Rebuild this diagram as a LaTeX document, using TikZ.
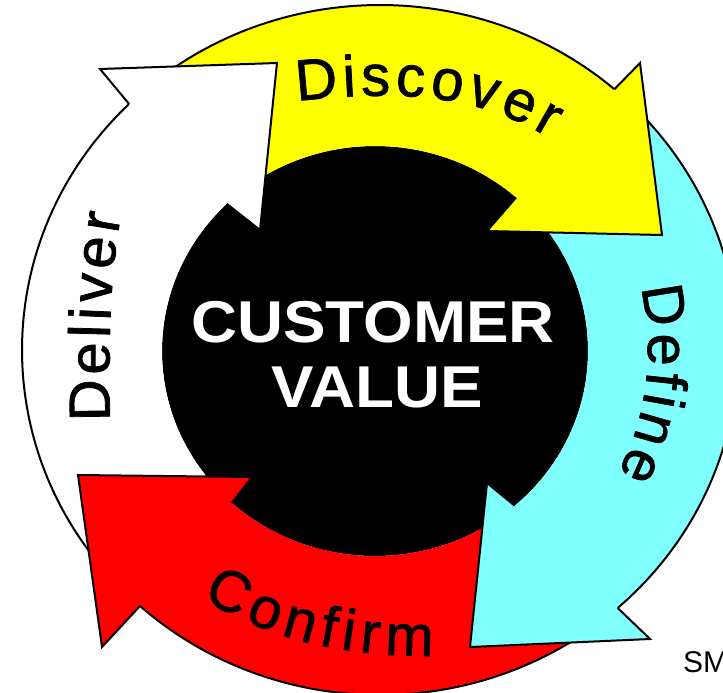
\documentclass[tikz,border=0pt]{standalone}
\usepackage{fontspec}
\usepackage{graphicx}
\setmainfont{Liberation Sans}
\newfontfamily\lblfam[FakeBold=1.3]{Liberation Sans}
\usetikzlibrary{calc,decorations.text}
\definecolor{ylw}{RGB}{255,255,0}
\definecolor{cyn}{RGB}{128,255,255}
\definecolor{rd}{RGB}{255,0,0}
\newcommand\lblfont{\lblfam\fontsize{58}{58}\selectfont}
\newcommand\ctrfont{\fontsize{59}{59}\selectfont\bfseries}
\tikzset{
  outline/.style={draw=black, line width=2pt, line join=miter},
  curvelabel/.style={decorate, decoration={text along path, text align={fit to path}, text color=black}},
}
\begin{document}
\begin{tikzpicture}[x=1pt,y=-1pt]
\useasboundingbox (0,0) rectangle (723,693);
\coordinate (O) at (380,350);
\coordinate (I) at (375,351);
% centre disc
\fill[black] (I) ellipse[x radius=213, y radius=205];
% yellow
\coordinate (yTo) at ($(O)+(-130:358 and 345)$);
\coordinate (yTi) at ($(I)+(-129.3:213 and 205)$);
\coordinate (yNo) at ($(O)+(-49.1:358 and 345)$);
\coordinate (yNi) at ($(I)+(-48.5:213 and 205)$);
\coordinate (yBo) at (640,63);
\coordinate (yT)  at (662,235);
\coordinate (yBi) at (487,231);
% cyan
\coordinate (cTo) at ($(O)+(-46.4:358 and 345)$);
\coordinate (cTi) at ($(I)+(-39.7:213 and 205)$);
\coordinate (cNo) at ($(O)+(48.4:358 and 345)$);
\coordinate (cNi) at ($(I)+(49.0:213 and 205)$);
\coordinate (cBo) at (650,639);
\coordinate (cT)  at (470,647);
\coordinate (cBi) at (487,483);
% red
\coordinate (rTo) at ($(O)+(50.0:358 and 345)$);
\coordinate (rTi) at ($(I)+(57.3:213 and 205)$);
\coordinate (rNo) at ($(O)+(132.1:358 and 345)$);
\coordinate (rNi) at ($(I)+(132.2:213 and 205)$);
\coordinate (rBo) at (102,647);
\coordinate (rT)  at (78,475);
\coordinate (rBi) at (252,477);
% white
\coordinate (wTo) at ($(O)+(135.9:358 and 345)$);
\coordinate (wTi) at ($(I)+(137.3:213 and 205)$);
\coordinate (wNo) at ($(O)+(225.5:358 and 345)$);
\coordinate (wNi) at ($(I)+(225.9:213 and 205)$);
\coordinate (wBo) at (100,69);
\coordinate (wT)  at (277,63);
\coordinate (wBi) at (260,230);
% ---- bodies ----
\fill[ylw] (yTo) arc[start angle=-130, end angle=-49.1, x radius=358, y radius=345] -- (yT) -- (yNi)
  arc[start angle=-48.5, end angle=-129.3, x radius=213, y radius=205] -- cycle;
\fill[cyn] (cTo) arc[start angle=-46.4, end angle=48.4, x radius=358, y radius=345] -- (cT) -- (cNi)
  arc[start angle=49.0, end angle=-39.7, x radius=213, y radius=205] -- cycle;
\fill[rd] (rTo) arc[start angle=50.0, end angle=132.1, x radius=358, y radius=345] -- (rT) -- (rNi)
  arc[start angle=132.2, end angle=57.3, x radius=213, y radius=205] -- cycle;
\fill[white] (wTo) arc[start angle=135.9, end angle=225.5, x radius=358, y radius=345] -- (wT) -- (wNi)
  arc[start angle=225.9, end angle=137.3, x radius=213, y radius=205] -- cycle;
% outer rims
\draw[outline] (yTo) arc[start angle=-130, end angle=-49.1, x radius=358, y radius=345];
\draw[outline] (cTo) arc[start angle=-46.4, end angle=48.4, x radius=358, y radius=345];
\draw[outline] (rTo) arc[start angle=50.0, end angle=132.1, x radius=358, y radius=345];
\draw[outline] (wTo) arc[start angle=135.9, end angle=225.5, x radius=358, y radius=345];
% ---- heads ----
\fill[ylw] (yNo) -- (yBo) -- (yT) -- (yBi) -- (yNi) -- cycle;
\draw[outline] (yNo) -- (yBo) -- (yT) -- (yBi) -- (yNi);
\fill[cyn] (cNo) -- (cBo) -- (cT) -- (cBi) -- (cNi) -- cycle;
\draw[outline] (cNo) -- (cBo) -- (cT) -- (cBi) -- (cNi);
\fill[rd] (rNo) -- (rBo) -- (rT) -- (rBi) -- (rNi) -- cycle;
\draw[outline] (rNo) -- (rBo) -- (rT) -- (rBi) -- (rNi);
\fill[white] (wNo) -- (wBo) -- (wT) -- (wBi) -- (wNi) -- cycle;
\draw[outline] (wNo) -- (wBo) -- (wT) -- (wBi) -- (wNi);
% ---- labels ----
\node[anchor=base, text=white, font=\ctrfont, inner sep=0pt] (cust) at (373,342) {\scalebox{1.08}[1]{CUSTOMER}};
\node[anchor=base, text=white, font=\ctrfont, inner sep=0pt] (val) at (377,407) {\scalebox{1.08}[1]{VALUE}};
\path[curvelabel, decoration={text={|\lblfont|Discover}}] (297,101) .. controls (400,90) and (475,93) .. (549,138);
\coordinate (dfS) at ($(O)+(-13.5:268)$);
\path[curvelabel, decoration={text={|\lblfont|Define}}] (dfS) arc[start angle=-13.5, end angle=27.5, radius=268];
\path[curvelabel, decoration={text={|\lblfont|Confirm}}] (202,598) .. controls (262,635) and (330,656) .. (433,656);
\path[curvelabel, decoration={text={|\lblfont|Deliver}}] (110,421) .. controls (108,330) and (111,270) .. (121,215);
\node[anchor=base west, font=\fontsize{30}{30}\selectfont, inner sep=0pt] (sm) at (683,672) {SM};
\end{tikzpicture}
\end{document}
